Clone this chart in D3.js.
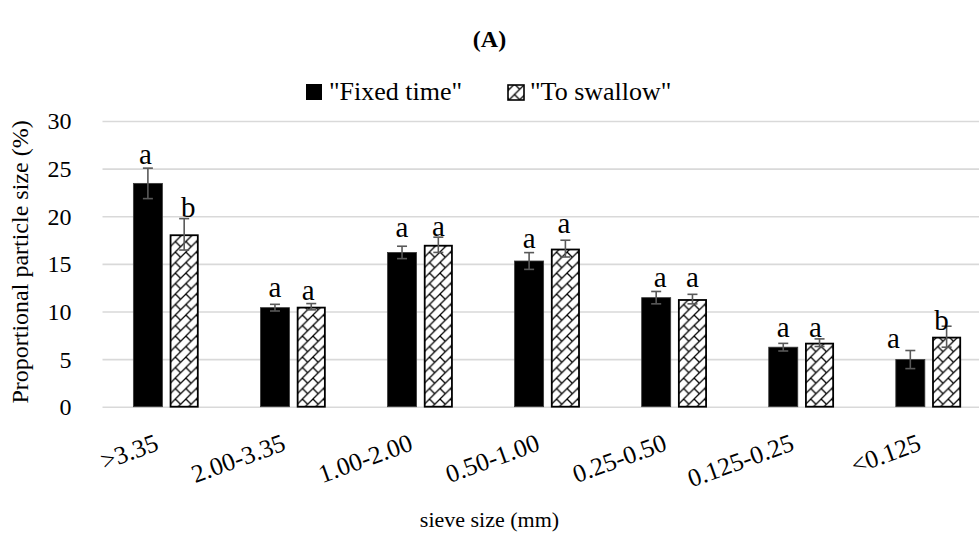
<!DOCTYPE html>
<html><head><meta charset="utf-8">
<script src="https://cdn.jsdelivr.net/npm/d3@7"></script>
<style>
html,body{margin:0;padding:0;background:#fff;}
svg{display:block;}
</style></head>
<body>
<svg id="chart" width="979" height="539"></svg>
<script>
// ---- data ----
const categories = [">3.35","2.00-3.35","1.00-2.00","0.50-1.00","0.25-0.50","0.125-0.25","<0.125"];
const seriesNames = ['"Fixed time"', '"To swallow"'];
const fixedTime = [23.45, 10.4, 16.2, 15.3, 11.45, 6.25, 4.95];
const fixedTimeErr = [1.6, 0.35, 0.65, 0.88, 0.65, 0.4, 0.95];
const toSwallow = [18.1, 10.5, 17.0, 16.6, 11.3, 6.72, 7.35];
const toSwallowErr = [1.65, 0.33, 0.8, 0.88, 0.5, 0.4, 1.1];
const fixedTimeLetters = ["a","a","a","a","a","a","a"];
const toSwallowLetters = ["b","a","a","a","a","a","b"];
const yTicks = [0,5,10,15,20,25,30];

// label nudges (style only): [dx, gap above error-bar top]
const labelNudge = [
  [[-2.5,4],[4,2]],
  [[0,7],[-3,3.5]],
  [[0,9],[0,1.5]],
  [[0,4.5],[-1.5,7.5]],
  [[4,4.5],[0,7.5]],
  [[0,6],[-4,2]],
  [[-17,2.5],[-5,-3.5]]
];

const FONT = '"Liberation Serif", "Times New Roman", serif';
const svg = d3.select("#chart").attr("font-family", FONT);
const margin = {left:102.5, right:992, top:121, bottom:406.7};

// pattern for hatched bars
const defs = svg.append("defs");
const T = 10.5;
const pat = defs.append("pattern").attr("id","weave").attr("patternUnits","userSpaceOnUse")
  .attr("width",T).attr("height",T);
pat.append("rect").attr("width",T).attr("height",T).attr("fill","#fff");
pat.append("path").attr("d",`M-1,${T+1} L${T+1},-1 M-1,1 L1,-1 M${T-1},${T+1} L${T+1},${T-1}`)
  .attr("stroke","#000").attr("stroke-width",1.25);
pat.append("path").attr("d",`M0,0 L${T/2},${T/2}`).attr("stroke","#000").attr("stroke-width",1.25);

const x0 = d3.scaleBand().domain(categories).range([margin.left, margin.right])
  .paddingInner(0.486).paddingOuter(0.243);
const x1 = d3.scaleBand().domain([0,1]).range([0, x0.bandwidth()]).paddingInner(0.2).paddingOuter(0);
const y = d3.scaleLinear().domain([0,30]).range([margin.bottom, margin.top]);

// title
svg.append("text").attr("x",489.5).attr("y",47).attr("text-anchor","middle")
  .attr("font-family",FONT).attr("font-size",24).attr("font-weight","bold").text("(A)");

// gridlines + y ticks
const yAxis = d3.axisLeft(y).tickValues(yTicks).tickSize(0).tickPadding(0).tickFormat(d3.format("d"));
const gy = svg.append("g").attr("transform",`translate(${margin.left},0)`).call(yAxis)
  .attr("font-family",FONT).attr("font-size",24);
gy.select(".domain").remove();
gy.selectAll(".tick text").attr("x",-31).attr("dy","0.33em").attr("fill","#000");
gy.selectAll(".tick").append("line").attr("x1",0).attr("x2",margin.right-margin.left)
  .attr("stroke","#d9d9d9").attr("stroke-width",1.6);

// bars
const data = categories.map((c,i)=>({cat:c, vals:[
  {s:0, v:fixedTime[i], e:fixedTimeErr[i], l:fixedTimeLetters[i], n:labelNudge[i][0]},
  {s:1, v:toSwallow[i], e:toSwallowErr[i], l:toSwallowLetters[i], n:labelNudge[i][1]}
]}));

const groups = svg.append("g").selectAll("g").data(data).join("g")
  .attr("transform", d=>`translate(${x0(d.cat)},0)`);

groups.selectAll("rect").data(d=>d.vals).join("rect")
  .attr("x", d=>x1(d.s) + (d.s===1?0.9:0))
  .attr("width", d=>x1.bandwidth() - (d.s===1?1.8:0))
  .attr("y", d=>y(d.v) + (d.s===1?0.9:0))
  .attr("height", d=>y(0)-y(d.v) - (d.s===1?0.9:0))
  .attr("fill", d=>d.s===0?"#000":"url(#weave)")
  .attr("stroke", d=>d.s===0?"#3a3a3a":"#000")
  .attr("stroke-width", d=>d.s===0?0.8:1.8);

// error bars
const eb = groups.selectAll("g.err").data(d=>d.vals).join("g").attr("class","err");
const cxb = d=>x1(d.s)+x1.bandwidth()/2;
eb.append("line").attr("x1",cxb).attr("x2",cxb)
  .attr("y1", d=>y(d.v+d.e)).attr("y2", d=>y(d.v-d.e));
eb.append("line").attr("x1", d=>cxb(d)-5).attr("x2", d=>cxb(d)+5)
  .attr("y1", d=>y(d.v+d.e)).attr("y2", d=>y(d.v+d.e));
eb.append("line").attr("x1", d=>cxb(d)-5).attr("x2", d=>cxb(d)+5)
  .attr("y1", d=>y(d.v-d.e)).attr("y2", d=>y(d.v-d.e));
eb.selectAll("line").attr("stroke","#595959").attr("stroke-width",1.6);

// letters
groups.selectAll("text.lab").data(d=>d.vals).join("text").attr("class","lab")
  .attr("x", d=>cxb(d) + d.n[0])
  .attr("y", d=>y(d.v+d.e) - d.n[1])
  .attr("text-anchor","middle").attr("font-family",FONT).attr("font-size",29).text(d=>d.l);

// x tick labels
const xAxis = d3.axisBottom(x0).tickSize(0).tickPadding(0);
const gx = svg.append("g").attr("transform",`translate(0,${margin.bottom})`).call(xAxis)
  .attr("font-family",FONT).attr("font-size",25.5);
gx.select(".domain").remove();
gx.selectAll(".tick text").attr("fill","#000")
  .attr("text-anchor","end").attr("y",0).attr("dy",0)
  .attr("transform","translate(-6,43) rotate(-20)");

// axis titles
svg.append("text").attr("text-anchor","middle").attr("font-family",FONT).attr("font-size",24)
  .attr("transform","translate(28,262) rotate(-90)").text("Proportional particle size (%)");
svg.append("text").attr("x",489.5).attr("y",527).attr("text-anchor","middle")
  .attr("font-family",FONT).attr("font-size",22).text("sieve size (mm)");

// legend
const lg = svg.append("g").attr("font-family",FONT).attr("font-size",26);
lg.append("rect").attr("x",306).attr("y",84).attr("width",16).attr("height",16).attr("fill","#000");
lg.append("text").attr("x",329).attr("y",100).text(seriesNames[0]);
lg.append("rect").attr("x",508).attr("y",85).attr("width",16).attr("height",15)
  .attr("fill","url(#weave)").attr("stroke","#000").attr("stroke-width",1.6);
lg.append("text").attr("x",530).attr("y",100).text(seriesNames[1]);
</script>
</body></html>
